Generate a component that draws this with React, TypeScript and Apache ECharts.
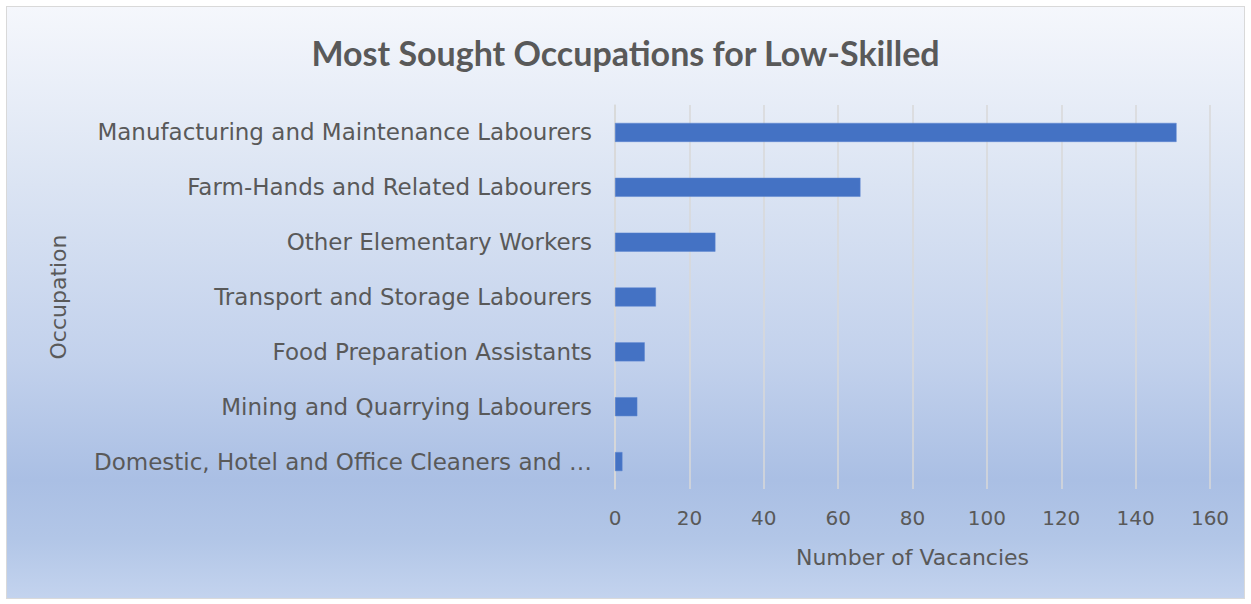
import React, { useEffect, useRef } from "react";
import * as echarts from "echarts";

const title = "Most Sought Occupations for Low-Skilled";
const categories = [
  "Manufacturing and Maintenance Labourers",
  "Farm-Hands and Related Labourers",
  "Other Elementary Workers",
  "Transport and Storage Labourers",
  "Food Preparation Assistants",
  "Mining and Quarrying Labourers",
  "Domestic, Hotel and Office Cleaners and Helpers",
];
const vacancies = [151, 66, 27, 11, 8, 6, 2];
const xAxisName = "Number of Vacancies";
const yAxisName = "Occupation";

export default function App() {
  const ref = useRef<HTMLDivElement>(null);
  useEffect(() => {
    if (!ref.current) return;
    const chart = echarts.init(ref.current, undefined, { renderer: "svg" });
    chart.setOption({
      animation: false,
      title: {
        text: title,
        left: "center",
        top: 30,
        textStyle: { fontFamily: "Lato", fontWeight: "bold", fontSize: 34, color: "#595959" },
      },
      grid: { left: 615, right: 41, top: 105, bottom: 115, containLabel: false },
      xAxis: {
        type: "value",
        min: 0,
        max: 160,
        interval: 20,
        name: xAxisName,
        nameLocation: "middle",
        nameGap: 57,
        nameTextStyle: { fontFamily: "DejaVu Sans", fontSize: 22, color: "#595959" },
        axisLabel: { fontFamily: "DejaVu Sans", fontSize: 20, color: "#595959", margin: 19 },
        axisLine: { show: false },
        axisTick: { show: false },
        splitLine: { lineStyle: { color: "#d9d9d9", width: 1.5 } },
      },
      yAxis: {
        type: "category",
        data: categories,
        inverse: true,
        name: yAxisName,
        nameLocation: "middle",
        nameGap: 546,
        nameRotate: 90,
        nameTextStyle: { fontFamily: "DejaVu Sans", fontSize: 22, color: "#595959" },
        axisLabel: {
          fontFamily: "DejaVu Sans",
          fontSize: 23,
          color: "#595959",
          margin: 23,
          width: 505,
          overflow: "truncate",
          ellipsis: "…",
        },
        axisLine: { show: true, lineStyle: { color: "#d9d9d9", width: 1.5 } },
        axisTick: { show: false },
      },
      series: [
        {
          type: "bar",
          data: vacancies,
          barWidth: 19,
          itemStyle: { color: "#4472c4", borderColor: "#5b85d0", borderWidth: 0.5 },
        },
      ],
    });
    return () => chart.dispose();
  }, []);
  return (
    <div style={{ position: "fixed", left: 0, top: 0, width: 1251, height: 604, background: "#ffffff" }}>
      <div
        style={{
          position: "absolute",
          left: 6,
          top: 6,
          width: 1237,
          height: 591,
          border: "1px solid #d9d9d9",
          background:
            "linear-gradient(to bottom, #f5f7fc 0%, #dbe4f3 30%, #c2d1ec 60%, #aabfe4 80%, #b2c6e7 90%, #c3d3ee 100%)",
        }}
      />
      <div ref={ref} style={{ position: "absolute", left: 0, top: 0, width: 1251, height: 604 }} />
    </div>
  );
}
